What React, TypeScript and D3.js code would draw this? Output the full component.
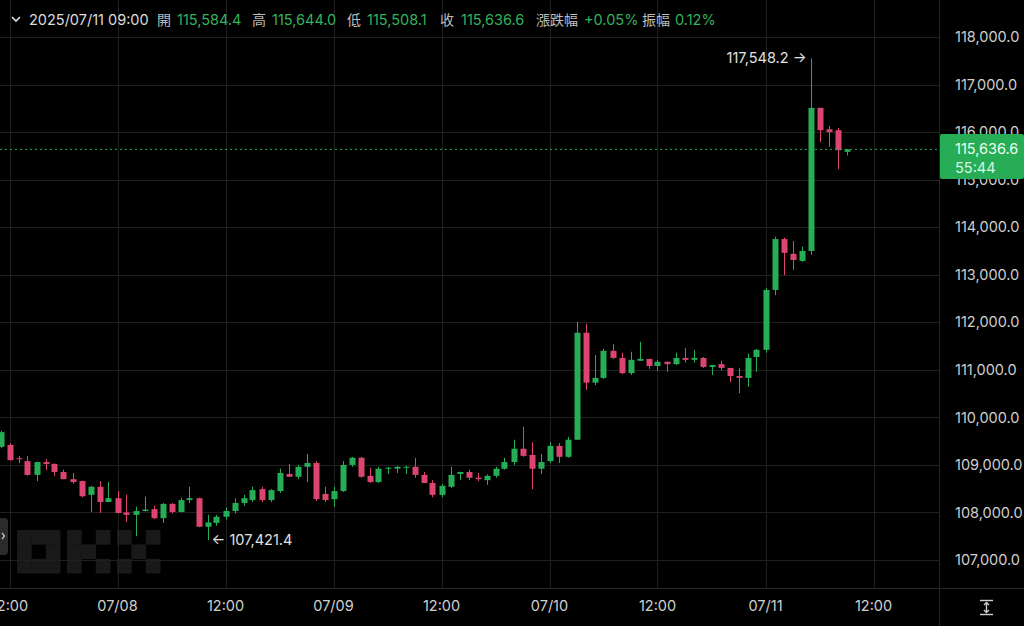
import React from 'react';
import * as d3 from 'd3';

// hourly candles, first one at 2025-07-07 11:00
const START_UTC = Date.UTC(2025, 6, 7, 11);

const opens = [
  109380, 109420, 109140, 109080, 108790, 109060, 109020, 108850, 108700, 108660,
  108370, 108540, 108220, 108300, 108000, 107950, 108030, 108070, 107880, 108180,
  108010, 108260, 108300, 107700, 107780, 107910, 108030, 108200, 108260, 108490,
  108260, 108450, 108810, 108750, 108960, 109040, 108390, 108280, 108450, 109000,
  109150, 108770, 108640, 108920, 108920, 108940, 108960, 108790, 108620, 108370,
  108540, 108810, 108850, 108730, 108680, 108770, 108920, 109060, 109340, 109210,
  108920, 109080, 109400, 109170, 109530, 111780, 110730, 110830, 111400, 111250,
  110930, 111190, 111230, 111080, 111170, 111120, 111250, 111210, 111250, 111060,
  111120, 111040, 110870, 110830, 111270, 111420, 112680, 113750, 113440, 113290,
  113500, 116510, 116060, 116040, 115584.4,
];
const highs = [
  109720, 109460, 109190, 109190, 109070, 109120, 109030, 108900, 108830, 108670,
  108560, 108660, 108640, 108450, 108370, 108120, 108330, 108140, 108200, 108200,
  108310, 108540, 108310, 107950, 107950, 108100, 108300, 108370, 108540, 108540,
  108490, 108920, 109020, 109000, 109230, 109080, 108540, 108540, 109080, 109170,
  109170, 108940, 108960, 108960, 108980, 108980, 109150, 108850, 108680, 108600,
  108960, 108860, 108900, 108830, 108800, 108960, 109150, 109530, 109800, 109480,
  109230, 109480, 109460, 109590, 112010, 111970, 111310, 111440, 111540, 111360,
  111380, 111590, 111230, 111210, 111170, 111360, 111460, 111420, 111270, 111100,
  111190, 111040, 111040, 111340, 111440, 112720, 113800, 113780, 113710, 113590,
  117548.2, 116510, 116130, 116090, 115644.0,
];
const lows = [
  109350, 109090, 109040, 108770, 108660, 108890, 108770, 108700, 108600, 108320,
  108010, 107990, 108220, 107980, 107800, 107500, 108020, 107860, 107780, 107980,
  108000, 108200, 107690, 107421.4, 107720, 107850, 107980, 108140, 108220, 108220,
  108220, 108410, 108750, 108700, 108640, 108240, 108220, 108120, 108430, 108960,
  108730, 108620, 108620, 108810, 108830, 108810, 108730, 108620, 108320, 108320,
  108510, 108680, 108680, 108660, 108580, 108730, 108900, 109000, 109170, 108490,
  108810, 109040, 109040, 109150, 109520, 110580, 110680, 110810, 111230, 110910,
  110890, 111190, 111020, 110980, 110960, 111100, 111150, 111150, 111040, 110890,
  110990, 110740, 110510, 110640, 110960, 111360, 112570, 112990, 113100, 113270,
  113420, 115790, 115690, 115220, 115508.1,
];
const closes = [
  109690, 109100, 109120, 108790, 109060, 109020, 108850, 108700, 108640, 108340,
  108540, 108220, 108300, 107990, 107950, 108030, 108060, 107880, 108180, 108010,
  108260, 108300, 107700, 107790, 107910, 108030, 108200, 108300, 108470, 108260,
  108470, 108830, 108750, 108960, 109040, 108280, 108260, 108450, 109000, 109150,
  108750, 108640, 108920, 108940, 108960, 108960, 108790, 108620, 108370, 108560,
  108790, 108850, 108730, 108700, 108770, 108920, 109060, 109340, 109190, 108920,
  109060, 109400, 109170, 109530, 111780, 110730, 110830, 111400, 111250, 110930,
  111210, 111230, 111080, 111170, 111120, 111250, 111210, 111250, 111060, 111100,
  111040, 110870, 110830, 111250, 111420, 112680, 113750, 113460, 113310, 113500,
  116510, 116040, 116000, 115620, 115636.6,
];

const priceTicks = [107000, 108000, 109000, 110000, 111000, 112000, 113000, 114000, 115000, 116000, 117000, 118000];
const countdown = '55:44';

const GREEN = '#27ad55';
const RED = '#dc456f';
const GREEN_TEXT = '#34b15e';
const FONT = 'Inter, "Noto Sans", sans-serif';
const CJK = '"Noto Sans CJK TC", "Noto Sans", sans-serif';
const FS = 14.5;

export default function App() {
  const W = 1024;
  const H = 626;
  const plotR = 939;
  const plotB = 588;
  const n = opens.length;
  const hour = 3600 * 1000;
  const times = opens.map((_, i) => new Date(START_UTC + i * hour));

  const x = d3.scaleUtc().domain([times[0], times[n - 1]]).range([0.5, 846.5]);
  const y = d3.scaleLinear().domain([107000, 118000]).range([560, 37]);

  const xTicks = d3.utcHour.every(12)!.range(times[0], new Date(START_UTC + 100 * hour));
  const fmtDay = d3.utcFormat('%m/%d');
  const fmtTime = d3.utcFormat('%H:%M');
  const fmtX = (d: Date) => (d.getUTCHours() === 0 ? fmtDay(d) : fmtTime(d));
  const fmtP = d3.format(',.1f');

  const last = n - 1;
  const lo = opens[last], lh = highs[last], ll = lows[last], lc = closes[last];
  const chg = ((lc - lo) / lo) * 100;
  const amp = ((lh - ll) / lo) * 100;
  const headerItems = [
    { x: 157, label: '開', vx: 177, v: fmtP(lo) },
    { x: 252, label: '高', vx: 272, v: fmtP(lh) },
    { x: 347, label: '低', vx: 367, v: fmtP(ll) },
    { x: 440, label: '收', vx: 461, v: fmtP(lc) },
    { x: 536, label: '漲跌幅', vx: 584, v: (chg >= 0 ? '+' : '') + chg.toFixed(2) + '%' },
    { x: 642, label: '振幅', vx: 675, v: amp.toFixed(2) + '%' },
  ];

  const maxI = d3.maxIndex(highs);
  const minI = d3.minIndex(lows);
  const bodyW = 6;

  // OKX pixel logo cells (col,row) per letter
  const logoCells: [number, number, number][] = [];
  const O = [[0,0],[1,0],[2,0],[0,1],[2,1],[0,2],[1,2],[2,2]];
  const K = [[0,0],[0,1],[0,2],[1,1],[2,0],[2,2]];
  const X = [[0,0],[2,0],[1,1],[0,2],[2,2]];
  [O, K, X].forEach((L, li) => L.forEach(([c, r]) => logoCells.push([li, c, r])));
  const cell = 14.4;

  return (
    <div style={{ position: 'absolute', left: 0, top: 0, width: W, height: H, background: '#000' }}>
      <svg width={W} height={H} style={{ display: 'block' }}>
        <rect x={0} y={0} width={W} height={H} fill="#000" />
        <defs>
          <clipPath id="plot">
            <rect x={0} y={0} width={plotR} height={plotB} />
          </clipPath>
        </defs>

        {/* watermark */}
        <g fill="#191919">
          {logoCells.map(([li, c, r], k) => (
            <rect key={k} x={17 + li * 50 + c * cell} y={530 + r * cell} width={cell + 0.3} height={cell + 0.3} />
          ))}
        </g>

        {/* grid */}
        <g stroke="#1f1f1f" strokeWidth={1} clipPath="url(#plot)">
          {priceTicks.map((p) => (
            <line key={p} x1={0} x2={plotR} y1={Math.round(y(p)) + 0.5} y2={Math.round(y(p)) + 0.5} />
          ))}
          {xTicks.map((t) => (
            <line key={+t} x1={Math.round(x(t)) + 0.5} x2={Math.round(x(t)) + 0.5} y1={0} y2={plotB} />
          ))}
        </g>

        {/* candles */}
        <g clipPath="url(#plot)">
          {opens.map((o, i) => {
            const c = closes[i];
            const up = c >= o;
            const col = up ? GREEN : RED;
            const cx = Math.round(x(times[i]));
            const yTop = y(Math.max(o, c));
            const yBot = y(Math.min(o, c));
            const bh = Math.max(1, yBot - yTop);
            return (
              <g key={i}>
                <rect x={cx} y={y(highs[i])} width={1} height={Math.max(1, y(lows[i]) - y(highs[i]))} fill={col} />
                <rect x={cx - bodyW / 2 + 0.5} y={yTop} width={bodyW} height={bh} fill={col} />
              </g>
            );
          })}
        </g>

        {/* current price dashed line */}
        <line x1={0} x2={plotR} y1={y(lc)} y2={y(lc)} stroke={GREEN} strokeWidth={1} strokeDasharray="2,3" />

        {/* high / low markers */}
        <text x={x(times[maxI]) - 4} y={y(highs[maxI]) + 5} fill="#e0e0e0" fontSize={FS} fontFamily={FONT} textAnchor="end">
          {fmtP(highs[maxI])} →
        </text>
        <text x={x(times[minI]) + 4} y={y(lows[minI]) + 5} fill="#e0e0e0" fontSize={FS} fontFamily={FONT}>
          ← {fmtP(lows[minI])}
        </text>

        {/* axes separators */}
        <line x1={plotR + 0.5} x2={plotR + 0.5} y1={0} y2={H} stroke="#262626" />
        <line x1={0} x2={W} y1={plotB + 0.5} y2={plotB + 0.5} stroke="#262626" />

        {/* right axis labels */}
        <g fontFamily={FONT} fontSize={FS} fill="#cfcfcf">
          {priceTicks.map((p) => (
            <text key={p} x={955} y={y(p)} dy="0.36em">
              {fmtP(p)}
            </text>
          ))}
        </g>

        {/* price label box */}
        <rect x={plotR + 1} y={134} width={W - plotR - 1} height={45} fill={GREEN} rx={2} />
        <text x={955} y={154} fontFamily={FONT} fontSize={FS} fill="#eafff0">{fmtP(lc)}</text>
        <text x={955} y={172.5} fontFamily={FONT} fontSize={FS} fill="#d9f5e2">{countdown}</text>

        {/* bottom axis labels */}
        <g fontFamily={FONT} fontSize={FS} fill="#cfcfcf" textAnchor="middle">
          {xTicks.map((t) => (
            <text key={+t} x={x(t)} y={611}>
              {fmtX(t)}
            </text>
          ))}
        </g>

        {/* bottom right icon */}
        <g stroke="#d0d0d0" strokeWidth={1.4} fill="none">
          <line x1={980} x2={993} y1={600.5} y2={600.5} />
          <line x1={980} x2={993} y1={614.5} y2={614.5} />
          <line x1={986.5} x2={986.5} y1={603} y2={612} />
          <polyline points="984,605 986.5,602.5 989,605" />
          <polyline points="984,610 986.5,612.5 989,610" />
        </g>

        {/* left drawer tab */}
        <rect x={-6} y={518} width={14} height={37} rx={4} fill="#2b2b2b" />
        <polyline points="2,533 4.5,536 2,539" stroke="#bdbdbd" strokeWidth={1.3} fill="none" />

        {/* header */}
        <polyline points="12,17 16,21 20,17" stroke="#dcdcdc" strokeWidth={1.6} fill="none" />
        <text x={29} y={25} fontFamily={FONT} fontSize={FS} fill="#dcdcdc">
          {d3.utcFormat('%Y/%m/%d %H:%M')(times[last])}
        </text>
        {headerItems.map((h) => (
          <g key={h.label}>
            <text x={h.x} y={25} fontFamily={CJK} fontSize={14} fill="#bdbdbd">{h.label}</text>
            <text x={h.vx} y={25} fontFamily={FONT} fontSize={FS} fill={GREEN_TEXT}>{h.v}</text>
          </g>
        ))}
      </svg>
    </div>
  );
}
